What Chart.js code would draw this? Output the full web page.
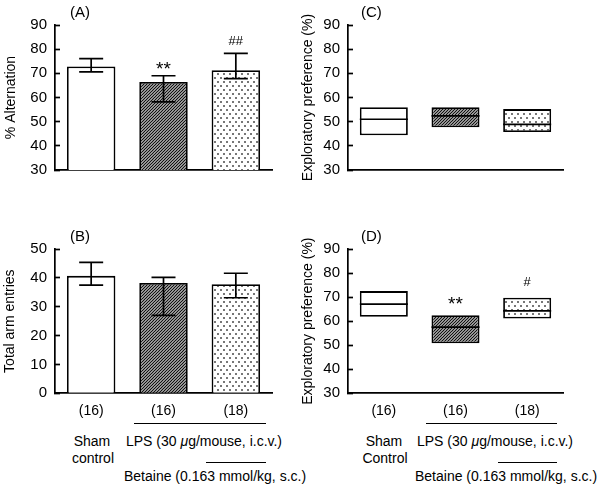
<!DOCTYPE html>
<html>
<head>
<meta charset="utf-8">
<script src="https://cdn.jsdelivr.net/npm/chart.js@4"></script>
<style>
  body { margin: 0; background: #fff; }
  #wrap { position: relative; width: 600px; height: 491px; font-family: "Liberation Sans", Arial, sans-serif; color: #000; }
  canvas { position: absolute; }
  .txt { position: absolute; font-size: 14px; line-height: 14px; white-space: nowrap; }
  .mid { transform: translateX(-50%); }
  .rule { position: absolute; height: 0; border-top: 1.6px solid #000; }
</style>
</head>
<body>
<div id="wrap">
  <canvas id="chartA" width="300" height="180" style="left:0;top:0"></canvas>
  <canvas id="chartC" width="300" height="180" style="left:300px;top:0"></canvas>
  <canvas id="chartB" width="300" height="240" style="left:0;top:180px"></canvas>
  <canvas id="chartD" width="300" height="240" style="left:300px;top:180px"></canvas>

  <div class="rule" style="left:134px;top:423px;width:132px"></div>
  <div class="rule" style="left:206px;top:462px;width:60px"></div>
  <div class="txt mid" style="left:92px;top:434px">Sham</div>
  <div class="txt mid" style="left:93px;top:451px">control</div>
  <div class="txt" style="left:126px;top:434px">LPS (30 <i>μ</i>g/mouse, i.c.v.)</div>
  <div class="txt" style="left:124px;top:469px">Betaine (0.163 mmol/kg, s.c.)</div>

  <div class="rule" style="left:426px;top:423px;width:131px"></div>
  <div class="rule" style="left:498px;top:462px;width:59px"></div>
  <div class="txt mid" style="left:384px;top:434px">Sham</div>
  <div class="txt mid" style="left:385px;top:451px">Control</div>
  <div class="txt" style="left:417px;top:434px">LPS (30 <i>μ</i>g/mouse, i.c.v.)</div>
  <div class="txt" style="left:415px;top:469px">Betaine (0.163 mmol/kg, s.c.)</div>
</div>
<script>
// group sizes shown under the bars
const groups = ['(16)', '(16)', '(18)'];

// (A) % alternation: mean, top and bottom of the error bar
const altMean = [72.8, 66.4, 71.3];
const altHi = [76.1, 69.0, 78.3];
const altLo = [70.6, 58.2, 67.8];
const altSig = ['', '**', '##'];

// (B) total arm entries
const armMean = [40.7, 38.2, 37.8];
const armHi = [45.4, 40.2, 41.6];
const armLo = [37.5, 27.0, 33.1];

// (C) exploratory preference, training: box low / median / high
const trainLow = [44.4, 47.7, 45.7];
const trainMed = [51.0, 52.4, 48.9];
const trainHigh = [56.0, 56.0, 55.2];

// (D) exploratory preference, test
const testLow = [61.8, 50.8, 61.1];
const testMed = [67.1, 57.5, 64.3];
const testHigh = [72.5, 62.5, 69.7];
const testSig = ['', '**', '#'];

const pctRange = [30, 90];
const armRange = [0, 50];

function hatchPattern() {
    const c = document.createElement('canvas');
    c.width = 3; c.height = 3;
    const g = c.getContext('2d');
    g.fillStyle = '#fff';
    g.fillRect(0, 0, 3, 3);
    g.strokeStyle = '#111';
    g.lineWidth = 1.3;
    g.beginPath();
    g.moveTo(-1, 4); g.lineTo(4, -1);
    g.moveTo(-1, 1); g.lineTo(1, -1);
    g.moveTo(2, 4); g.lineTo(4, 2);
    g.stroke();
    return g.createPattern(c, 'repeat');
}

function dotPattern() {
    const c = document.createElement('canvas');
    c.width = 6; c.height = 8;
    const g = c.getContext('2d');
    g.fillStyle = '#fff';
    g.fillRect(0, 0, 6, 8);
    g.fillStyle = '#777';
    g.fillRect(1, 1, 2, 2);
    g.fillRect(4, 5, 2, 2);
    return g.createPattern(c, 'repeat');
}

const fills = ['#fff', hatchPattern(), dotPattern()];

// error bars, median lines and significance marks
const extras = {
    id: 'extras',
    afterDatasetsDraw(chart, args, opts) {
        const ctx = chart.ctx;
        const y = chart.scales.y;
        const meta = chart.getDatasetMeta(0);
        ctx.save();
        ctx.strokeStyle = '#000';
        ctx.lineWidth = 1.7;
        meta.data.forEach((bar, i) => {
            let top = Math.min(bar.y, bar.base);
            if (opts.hi) {
                const yh = y.getPixelForValue(opts.hi[i]);
                const yl = y.getPixelForValue(opts.lo[i]);
                ctx.beginPath();
                ctx.moveTo(bar.x, yh); ctx.lineTo(bar.x, yl);
                ctx.moveTo(bar.x - 12, yh); ctx.lineTo(bar.x + 12, yh);
                ctx.moveTo(bar.x - 12, yl); ctx.lineTo(bar.x + 12, yl);
                ctx.stroke();
                top = Math.min(top, yh);
            }
            if (opts.med) {
                const ym = y.getPixelForValue(opts.med[i]);
                ctx.beginPath();
                ctx.moveTo(bar.x - bar.width / 2, ym);
                ctx.lineTo(bar.x + bar.width / 2, ym);
                ctx.stroke();
            }
            if (opts.sig && opts.sig[i]) {
                const s = opts.sig[i];
                const star = s.includes('*');
                ctx.fillStyle = '#000';
                ctx.font = (star ? '19px' : '13px') + ' "Liberation Sans", Arial, sans-serif';
                ctx.textAlign = 'center';
                ctx.textBaseline = 'alphabetic';
                ctx.fillText(s, bar.x, top - opts.gap + (star ? 3 : -4));
            }
        });
        ctx.restore();
    }
};

// panel letter in the top left corner
const panelTag = {
    id: 'panelTag',
    afterDraw(chart, args, opts) {
        const ctx = chart.ctx;
        ctx.save();
        ctx.fillStyle = '#000';
        ctx.font = '15px "Liberation Sans", Arial, sans-serif';
        ctx.textBaseline = 'middle';
        ctx.fillText(opts.text, chart.chartArea.left + opts.dx, chart.chartArea.top - 12);
        ctx.restore();
    }
};

function makeChart(id, cfg) {
    return new Chart(document.getElementById(id), {
        type: 'bar',
        data: {
            labels: groups,
            datasets: [{
                data: cfg.data,
                backgroundColor: fills,
                borderColor: '#000',
                borderWidth: 1.8,
                borderSkipped: cfg.box ? false : 'start',
                barPercentage: 0.67,
                categoryPercentage: 1
            }]
        },
        options: {
            responsive: false,
            animation: false,
            layout: { padding: cfg.pad },
            plugins: {
                legend: { display: false },
                tooltip: { enabled: false },
                extras: cfg.extras,
                panelTag: { text: cfg.tag, dx: cfg.tagDx }
            },
            scales: {
                x: {
                    grid: { display: true, color: 'transparent', drawTicks: false },
                    border: { color: '#000', width: 1.7 },
                    ticks: { display: cfg.showN, color: '#000', font: { size: 14 }, padding: 9 },
                    afterFit: s => { s.height = cfg.xh; }
                },
                y: {
                    min: cfg.range[0],
                    max: cfg.range[1],
                    // ticks point into the plot, as in the original figure
                    ticks: { stepSize: 10, color: '#000', font: { size: 15 }, padding: 13 },
                    grid: { drawOnChartArea: false, tickLength: -5, tickColor: '#000', tickWidth: 1.7 },
                    border: { color: '#000', width: 1.7 },
                    title: { display: true, text: cfg.title, color: '#000', font: { size: 14 }, padding: { top: cfg.titlePad, bottom: 0 } },
                    afterFit: s => {
                        s.width = cfg.yw;
                        s.paddingTop = 9;
                        s.paddingBottom = 9;
                    }
                }
            }
        },
        plugins: [extras, panelTag]
    });
}

makeChart('chartA', {
    data: altMean, range: pctRange, title: '% Alternation', tag: '(A)', tagDx: 15,
    pad: { left: 0, top: 25, right: 28, bottom: 10 }, xh: 0, yw: 55, titlePad: 3, showN: false,
    extras: { hi: altHi, lo: altLo, sig: altSig, gap: 4 }
});

makeChart('chartB', {
    data: armMean, range: armRange, title: 'Total arm entries', tag: '(B)', tagDx: 15,
    pad: { left: 0, top: 69, right: 28, bottom: 0 }, xh: 26.7, yw: 55, titlePad: 2, showN: true,
    extras: { hi: armHi, lo: armLo }
});

makeChart('chartC', {
    data: trainLow.map((v, i) => [v, trainHigh[i]]), range: pctRange, box: true,
    title: 'Exploratory preference (%)', tag: '(C)', tagDx: 13,
    pad: { left: 0, top: 25, right: 37, bottom: 10 }, xh: 0, yw: 48, titlePad: 0, showN: false,
    extras: { med: trainMed }
});

makeChart('chartD', {
    data: testLow.map((v, i) => [v, testHigh[i]]), range: pctRange, box: true,
    title: 'Exploratory preference (%)', tag: '(D)', tagDx: 13,
    pad: { left: 0, top: 69, right: 37, bottom: 0 }, xh: 26.7, yw: 48, titlePad: 0, showN: true,
    extras: { med: testMed, sig: testSig, gap: 8 }
});
</script>
</body>
</html>
